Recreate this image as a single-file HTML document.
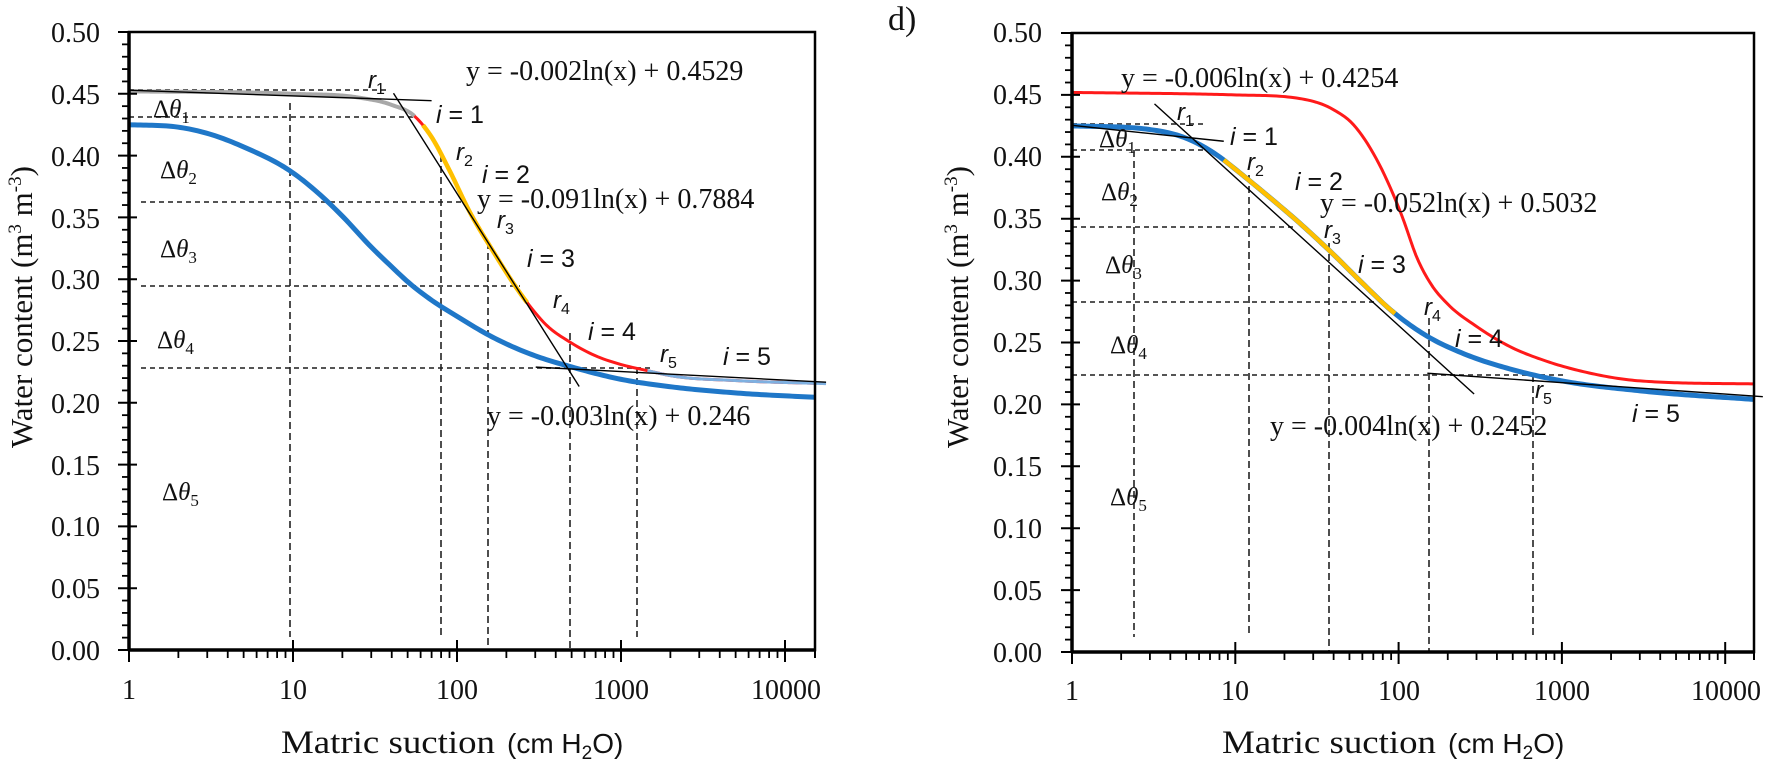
<!DOCTYPE html>
<html><head><meta charset="utf-8"><style>
html,body{margin:0;padding:0;background:#fff;}
svg{display:block;}
.serif{font-family:"Liberation Serif",serif;}
.sans{font-family:"Liberation Sans",sans-serif;}
</style></head><body>
<svg id="s" width="1768" height="765" viewBox="0 0 1768 765" xmlns="http://www.w3.org/2000/svg">
<rect width="1768" height="765" fill="#fff"/>
<g id="g1"></g>
<g id="g2"></g>
<g class="serif" font-size="28" fill="#111">
<text x="100" y="42" text-anchor="end">0.50</text>
<text x="100" y="104" text-anchor="end">0.45</text>
<text x="100" y="166" text-anchor="end">0.40</text>
<text x="100" y="228" text-anchor="end">0.35</text>
<text x="100" y="289" text-anchor="end">0.30</text>
<text x="100" y="351" text-anchor="end">0.25</text>
<text x="100" y="413" text-anchor="end">0.20</text>
<text x="100" y="475" text-anchor="end">0.15</text>
<text x="100" y="536" text-anchor="end">0.10</text>
<text x="100" y="598" text-anchor="end">0.05</text>
<text x="100" y="660" text-anchor="end">0.00</text>
<text x="129" y="699" text-anchor="middle">1</text>
<text x="293" y="699" text-anchor="middle">10</text>
<text x="457" y="699" text-anchor="middle">100</text>
<text x="621" y="699" text-anchor="middle">1000</text>
<text x="786" y="699" text-anchor="middle">10000</text>

<text x="1042" y="42" text-anchor="end">0.50</text>
<text x="1042" y="104" text-anchor="end">0.45</text>
<text x="1042" y="166" text-anchor="end">0.40</text>
<text x="1042" y="228" text-anchor="end">0.35</text>
<text x="1042" y="290" text-anchor="end">0.30</text>
<text x="1042" y="352" text-anchor="end">0.25</text>
<text x="1042" y="414" text-anchor="end">0.20</text>
<text x="1042" y="476" text-anchor="end">0.15</text>
<text x="1042" y="538" text-anchor="end">0.10</text>
<text x="1042" y="600" text-anchor="end">0.05</text>
<text x="1042" y="662" text-anchor="end">0.00</text>
<text x="1072" y="700" text-anchor="middle">1</text>
<text x="1235" y="700" text-anchor="middle">10</text>
<text x="1399" y="700" text-anchor="middle">100</text>
<text x="1562" y="700" text-anchor="middle">1000</text>
<text x="1726" y="700" text-anchor="middle">10000</text>
</g>

<g class="serif" font-size="31" fill="#111">
<text transform="translate(32,307) rotate(-90)" text-anchor="middle">Water content (m<tspan font-size="19" dy="-11">3</tspan><tspan dy="11"> m</tspan><tspan font-size="19" dy="-11">-3</tspan><tspan dy="11">)</tspan></text>
<text transform="translate(968,307) rotate(-90)" text-anchor="middle">Water content (m<tspan font-size="19" dy="-11">3</tspan><tspan dy="11"> m</tspan><tspan font-size="19" dy="-11">-3</tspan><tspan dy="11">)</tspan></text>
<text x="281" y="753" font-size="33" textLength="214" lengthAdjust="spacingAndGlyphs">Matric suction</text>
<text x="1222" y="753" font-size="33" textLength="214" lengthAdjust="spacingAndGlyphs">Matric suction</text>
<text x="888" y="30" font-size="34">d)</text>
</g>
<g class="sans" font-size="28" fill="#111">
<text x="507" y="753">(cm H<tspan font-size="19" dy="6">2</tspan><tspan dy="-6">O)</tspan></text>
<text x="1448" y="753">(cm H<tspan font-size="19" dy="6">2</tspan><tspan dy="-6">O)</tspan></text>
</g>

<g class="serif" font-size="28" fill="#111">
<text x="466" y="80">y = -0.002ln(x) + 0.4529</text>
<text x="477" y="208">y = -0.091ln(x) + 0.7884</text>
<text x="487" y="425">y = -0.003ln(x) + 0.246</text>
<text x="1121" y="87">y = -0.006ln(x) + 0.4254</text>
<text x="1320" y="212">y = -0.052ln(x) + 0.5032</text>
<text x="1270" y="435">y = -0.004ln(x) + 0.2452</text>
</g>
<g class="sans" font-size="25" fill="#111">
<text x="436" y="123"><tspan font-style="italic">i</tspan> = 1</text>
<text x="482" y="183"><tspan font-style="italic">i</tspan> = 2</text>
<text x="527" y="267"><tspan font-style="italic">i</tspan> = 3</text>
<text x="588" y="340"><tspan font-style="italic">i</tspan> =  4</text>
<text x="723" y="365"><tspan font-style="italic">i</tspan> = 5</text>
<text x="1230" y="145"><tspan font-style="italic">i</tspan> = 1</text>
<text x="1295" y="190"><tspan font-style="italic">i</tspan> = 2</text>
<text x="1358" y="273"><tspan font-style="italic">i</tspan> = 3</text>
<text x="1455" y="347"><tspan font-style="italic">i</tspan> =  4</text>
<text x="1632" y="422"><tspan font-style="italic">i</tspan> = 5</text>
</g>
<g class="sans" font-size="24" font-style="italic" fill="#111">
<text x="368" y="88">r<tspan font-size="16" font-style="normal" dy="6">1</tspan></text>
<text x="456" y="160">r<tspan font-size="16" font-style="normal" dy="6">2</tspan></text>
<text x="497" y="228">r<tspan font-size="16" font-style="normal" dy="6">3</tspan></text>
<text x="553" y="308">r<tspan font-size="16" font-style="normal" dy="6">4</tspan></text>
<text x="660" y="362">r<tspan font-size="16" font-style="normal" dy="6">5</tspan></text>
<text x="1177" y="120">r<tspan font-size="16" font-style="normal" dy="6">1</tspan></text>
<text x="1247" y="170">r<tspan font-size="16" font-style="normal" dy="6">2</tspan></text>
<text x="1324" y="238">r<tspan font-size="16" font-style="normal" dy="6">3</tspan></text>
<text x="1424" y="315">r<tspan font-size="16" font-style="normal" dy="6">4</tspan></text>
<text x="1535" y="398">r<tspan font-size="16" font-style="normal" dy="6">5</tspan></text>
</g>
<g class="serif" font-size="25" fill="#111">
<text x="153" y="117">Δ<tspan font-style="italic">θ</tspan><tspan font-size="17" dy="6">1</tspan></text>
<text x="160" y="178">Δ<tspan font-style="italic">θ</tspan><tspan font-size="17" dy="6">2</tspan></text>
<text x="160" y="257">Δ<tspan font-style="italic">θ</tspan><tspan font-size="17" dy="6">3</tspan></text>
<text x="157" y="348">Δ<tspan font-style="italic">θ</tspan><tspan font-size="17" dy="6">4</tspan></text>
<text x="162" y="500">Δ<tspan font-style="italic">θ</tspan><tspan font-size="17" dy="6">5</tspan></text>
<text x="1099" y="147">Δ<tspan font-style="italic">θ</tspan><tspan font-size="17" dy="6">1</tspan></text>
<text x="1101" y="200">Δ<tspan font-style="italic">θ</tspan><tspan font-size="17" dy="6">2</tspan></text>
<text x="1105" y="273">Δ<tspan font-style="italic">θ</tspan><tspan font-size="17" dy="6">3</tspan></text>
<text x="1110" y="353">Δ<tspan font-style="italic">θ</tspan><tspan font-size="17" dy="6">4</tspan></text>
<text x="1110" y="505">Δ<tspan font-style="italic">θ</tspan><tspan font-size="17" dy="6">5</tspan></text>
</g>
</svg>
<script>
(function(){
var NS="http://www.w3.org/2000/svg";
function el(g,tag,attrs){var e=document.createElementNS(NS,tag);for(var k in attrs)e.setAttribute(k,attrs[k]);g.appendChild(e);return e;}
function mono(pts){
  var xs=pts.map(function(p){return Math.log10(p[0]);}),ys=pts.map(function(p){return p[1];});
  var n=xs.length,d=[],m=[];
  for(var i=0;i<n-1;i++)d.push((ys[i+1]-ys[i])/(xs[i+1]-xs[i]));
  m[0]=d[0];m[n-1]=d[n-2];
  for(i=1;i<n-1;i++){m[i]=(d[i-1]*d[i]<=0)?0:(d[i-1]*(xs[i+1]-xs[i])+d[i]*(xs[i]-xs[i-1]))/(xs[i+1]-xs[i-1]);}
  for(i=0;i<n-1;i++){if(d[i]===0){m[i]=0;m[i+1]=0;continue;}var a=m[i]/d[i],b=m[i+1]/d[i],s=a*a+b*b;if(s>9){var t=3/Math.sqrt(s);m[i]=t*a*d[i];m[i+1]=t*b*d[i];}}
  return function(u){
    var i=0;while(i<n-2&&u>xs[i+1])i++;
    var h=xs[i+1]-xs[i],t=(u-xs[i])/h,t2=t*t,t3=t2*t;
    return (2*t3-3*t2+1)*ys[i]+(t3-2*t2+t)*h*m[i]+(-2*t3+3*t2)*ys[i+1]+(t3-t2)*h*m[i+1];
  };
}
function panel(g,P,red,blue,segs,lines,hd,vd){
  function px(x){return P.x0+P.dec*Math.log10(x);}
  function py(v){return P.y0-P.s*v;}
  var xmax=Math.pow(10,(P.x1-P.x0)/P.dec);
  function cpath(f,a,b){var ua=Math.log10(a),ub=Math.log10(b),s="";for(var k=0;k<=240;k++){var u=ua+(ub-ua)*k/240;s+=(k?"L":"M")+(P.x0+P.dec*u).toFixed(2)+","+py(f(u)).toFixed(2);}return s;}
  hd.forEach(function(h){el(g,"line",{x1:h[1],x2:h[2],y1:h[0],y2:h[0],stroke:"#555","stroke-width":2,"stroke-dasharray":"5,4"});});
  vd.forEach(function(v){el(g,"line",{x1:v[0],x2:v[0],y1:v[1],y2:v[2],stroke:"#222","stroke-width":1.6,"stroke-dasharray":"7,4"});});
  var fr=mono(red),fb=mono(blue);
  el(g,"path",{d:cpath(fr,1,xmax),fill:"none",stroke:"#ff1a1a","stroke-width":3});
  el(g,"path",{d:cpath(fb,1,xmax),fill:"none",stroke:"#1f77c8","stroke-width":5});
  segs.forEach(function(s){
    var f=s[4]==="b"?fb:fr;
    el(g,"path",{d:cpath(f,s[0],s[1]),fill:"none",stroke:s[2],"stroke-width":s[3]});
  });
  lines.forEach(function(L){
    el(g,"line",{x1:px(L[2]),y1:py(L[1]+L[0]*Math.log(L[2])),x2:px(L[3]),y2:py(L[1]+L[0]*Math.log(L[3])),stroke:"#000","stroke-width":1.4});
  });
  el(g,"rect",{x:P.x0,y:P.top,width:P.x1-P.x0,height:P.y0-P.top,fill:"none",stroke:"#000","stroke-width":2.5});
  el(g,"line",{x1:P.x0,x2:P.x1,y1:P.y0,y2:P.y0,stroke:"#000","stroke-width":3.5});
  el(g,"line",{x1:P.x0,x2:P.x0,y1:P.top,y2:P.y0,stroke:"#000","stroke-width":3.5});
  for(var k=0;k<=50;k++){var y=py(k/100);
    if(k%5===0) el(g,"line",{x1:P.x0-11,x2:P.x0+8,y1:y,y2:y,stroke:"#000","stroke-width":2});
    else el(g,"line",{x1:P.x0-7,x2:P.x0,y1:y,y2:y,stroke:"#000","stroke-width":1.8});
  }
  for(var dcd=0;dcd<5;dcd++){for(var j=1;j<10;j++){var xv=Math.pow(10,dcd)*j;var x=px(xv);if(x>P.x1+1)continue;
    if(j===1) el(g,"line",{x1:x,x2:x,y1:P.y0-10,y2:P.y0+12,stroke:"#000","stroke-width":2});
    else el(g,"line",{x1:x,x2:x,y1:P.y0,y2:P.y0+8,stroke:"#000","stroke-width":1.8});
  }}
  el(g,"line",{x1:P.x1,x2:P.x1,y1:P.y0,y2:P.y0+8,stroke:"#000","stroke-width":2});
}
var g1=document.getElementById("g1"),g2=document.getElementById("g2");
panel(g1,{x0:129,x1:815,dec:164,y0:650,top:32,s:1236},
 [[1,.452],[10,.450],[25,.447],[40,.441],[55,.432],[70,.415],[90,.388],[120,.354],[160,.326],[268,.281],[350,.263],[490,.249],[700,.238],[1000,.231],[1450,.226],[2000,.222],[5000,.218],[17800,.2155]],
 [[1,.425],[2,.423],[3,.418],[5,.407],[10,.386],[15,.367],[20,.351],[30,.326],[40,.310],[50,.298],[70,.283],[100,.270],[160,.254],[300,.238],[500,.229],[1000,.219],[2000,.213],[5000,.208],[17800,.204]],
 [[1,55,"#a8a8a8",4,"r"],[62,268,"#ffc000",4.5,"r"],[1450,17800,"#7fb0e0",3,"r"]],
 [[-0.002,0.4529,1,70],[-0.091,0.7884,41,556],[-0.003,0.246,302,17800]],
 [[90,129,388],[117,129,417],[202,141,465],[286,141,520],[368,141,652]],
 [[290,103,637],[441,155,637],[488,242,650],[570,333,650],[637,367,637]]);
panel(g2,{x0:1072,x1:1754,dec:163.3,y0:652,top:33,s:1238},
 [[1,.452],[10,.450],[25,.447],[40,.438],[52,.427],[74,.397],[105,.352],[130,.318],[160,.296],[200,.281],[300,.263],[475,.247],[800,.235],[1400,.226],[3000,.219],[17000,.2165]],
 [[1,.425],[3,.422],[5,.415],[8,.400],[10,.390],[15,.371],[25,.346],[40,.321],[60,.298],[90,.276],[150,.255],[250,.241],[500,.228],[1000,.219],[3000,.211],[17000,.2035]],
 [[8.5,95,"#ffc000",4.5,"b"]],
 [[-0.006,0.4254,1,8.5],[-0.052,0.5032,3.2,290],[-0.004,0.2452,150,17000]],
 [[124,1072,1206],[150,1072,1208],[227,1072,1295],[302,1072,1378],[375,1072,1564]],
 [[1134,150,637],[1249,175,637],[1329,243,652],[1429,318,652],[1533,375,637]]);
})();
</script>
</body></html>
